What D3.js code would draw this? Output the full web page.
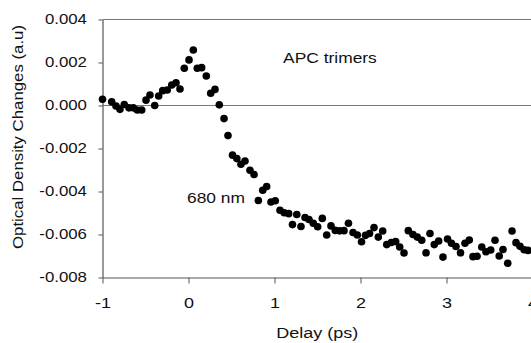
<!DOCTYPE html>
<html>
<head>
<meta charset="utf-8">
<script src="https://cdn.jsdelivr.net/npm/d3@7"></script>
<style>
  body { margin: 0; background: #fff; }
  svg { display: block; font-family: "Liberation Sans", Arial, sans-serif; }
</style>
</head>
<body>
<svg id="chart"></svg>
<script>
// delay (ps) and optical density change
const delays = [-1.00, -0.893, -0.843, -0.797, -0.747, -0.692, -0.642, -0.595, -0.544, -0.494,
  -0.448, -0.393, -0.347, -0.300, -0.247, -0.195, -0.145, -0.099, -0.049, 0.006,
  0.056, 0.102, 0.153, 0.207, 0.258, 0.308, 0.358, 0.413, 0.459, 0.512,
  0.562, 0.610, 0.657, 0.715, 0.762, 0.812, 0.863, 0.909, 0.959, 1.009,
  1.064, 1.113, 1.165, 1.209, 1.259, 1.308, 1.355, 1.401, 1.451, 1.502,
  1.556, 1.607, 1.657, 1.707, 1.758, 1.808, 1.860, 1.913, 1.963, 2.012,
  2.058, 2.105, 2.157, 2.207, 2.258, 2.305, 2.358, 2.409, 2.456, 2.506,
  2.556, 2.610, 2.660, 2.712, 2.762, 2.808, 2.858, 2.909, 2.959, 3.012,
  3.058, 3.110, 3.163, 3.215, 3.265, 3.308, 3.355, 3.410, 3.459, 3.514,
  3.564, 3.613, 3.657, 3.712, 3.762, 3.808, 3.855, 3.903, 3.948];
const odChanges = [0.00029, 0.00017, -0.00002, -0.00018, 0.00005, -0.00011, -0.00011, -0.00021, -0.00021, 0.00025,
  0.00049, 0.00000, 0.00044, 0.00069, 0.00072, 0.00095, 0.00106, 0.00077, 0.00173, 0.00212,
  0.00258, 0.00173, 0.00176, 0.00137, 0.00057, 0.00075, 0.00003, -0.00061, -0.00140, -0.00231,
  -0.00247, -0.00273, -0.00258, -0.00301, -0.00321, -0.00442, -0.00394, -0.00377, -0.00449, -0.00443,
  -0.00487, -0.00499, -0.00503, -0.00554, -0.00507, -0.00563, -0.00521, -0.00530, -0.00548, -0.00564,
  -0.00525, -0.00602, -0.00560, -0.00581, -0.00583, -0.00582, -0.00548, -0.00591, -0.00602, -0.00634,
  -0.00604, -0.00595, -0.00568, -0.00612, -0.00584, -0.00647, -0.00637, -0.00633, -0.00658, -0.00686,
  -0.00582, -0.00600, -0.00612, -0.00627, -0.00685, -0.00595, -0.00647, -0.00630, -0.00705, -0.00621,
  -0.00641, -0.00656, -0.00685, -0.00641, -0.00626, -0.00703, -0.00701, -0.00658, -0.00680, -0.00672,
  -0.00627, -0.00700, -0.00670, -0.00734, -0.00584, -0.00638, -0.00655, -0.00671, -0.00674];

const xTicks = [-1, 0, 1, 2, 3, 4];
const yTicks = [0.004, 0.002, 0, -0.002, -0.004, -0.006, -0.008];
const xTitle = "Delay (ps)";
const yTitle = "Optical Density Changes (a.u)";
const notes = [
  { text: "APC trimers", x: 1.10, y: 0.00197 },
  { text: "680 nm", x: -0.017, y: -0.00455 }
];

const W = 531, H = 343;
const plotLeft = 102.5, plotTop = 19.5, plotRight = 532.5, plotBottom = 277.5;
const sx = 1.2; // the scan is stretched sideways

const svg = d3.select("#chart").attr("width", W).attr("height", H);

const x = d3.scaleLinear().domain([-1, 4]).range([plotLeft, plotRight]);
const y = d3.scaleLinear().domain([-0.008, 0.004]).range([plotBottom, plotTop]);

// top frame line and zero line
svg.append("line")
  .attr("x1", plotLeft).attr("x2", W).attr("y1", y(0.004)).attr("y2", y(0.004))
  .attr("stroke", "#777").attr("stroke-width", 1.2);
svg.append("line")
  .attr("x1", plotLeft).attr("x2", W).attr("y1", y(0)).attr("y2", y(0))
  .attr("stroke", "#777").attr("stroke-width", 1.2);

// y axis
const yAxis = svg.append("g")
  .attr("transform", `translate(${plotLeft},0)`)
  .call(d3.axisLeft(y).tickValues(yTicks).tickFormat(d => d.toFixed(3))
    .tickSize(4).tickPadding(9).tickSizeOuter(0));
yAxis.select(".domain").attr("stroke", "#555").attr("stroke-width", 1.2);
yAxis.selectAll(".tick line").attr("stroke", "#555");
yAxis.selectAll("text")
  .attr("font-size", 14).attr("fill", "#111")
  .attr("transform", `scale(${sx},1)`);

// x axis
const xAxis = svg.append("g")
  .attr("transform", `translate(0,${plotBottom})`)
  .call(d3.axisBottom(x).tickValues(xTicks).tickFormat(d => String(d))
    .tickSize(6).tickPadding(14).tickSizeOuter(0));
xAxis.select(".domain").attr("stroke", "#555").attr("stroke-width", 1.2);
xAxis.selectAll(".tick line").attr("stroke", "#555");
xAxis.selectAll("text")
  .attr("font-size", 15).attr("fill", "#111")
  .attr("transform", `scale(${sx},1)`);

// points
svg.append("g")
  .selectAll("circle")
  .data(delays.map((d, i) => ({ t: d, v: odChanges[i] })))
  .join("circle")
  .attr("cx", d => x(d.t))
  .attr("cy", d => y(d.v))
  .attr("r", 3.8)
  .attr("fill", "#000");

// annotations
svg.append("g")
  .selectAll("text")
  .data(notes)
  .join("text")
  .attr("transform", d => `translate(${x(d.x)},${y(d.y)}) scale(${sx},1)`)
  .attr("font-size", 14.5).attr("fill", "#111")
  .text(d => d.text);

// axis titles
svg.append("text")
  .attr("transform", `translate(${(plotLeft + W) / 2 + 0.5},338) scale(${sx},1)`)
  .attr("text-anchor", "middle")
  .attr("font-size", 15).attr("fill", "#111")
  .text(xTitle);

svg.append("text")
  .attr("transform", `translate(23,137) rotate(-90) scale(${sx},1)`)
  .attr("text-anchor", "middle")
  .attr("font-size", 14).attr("fill", "#111")
  .text(yTitle);
</script>
</body>
</html>
